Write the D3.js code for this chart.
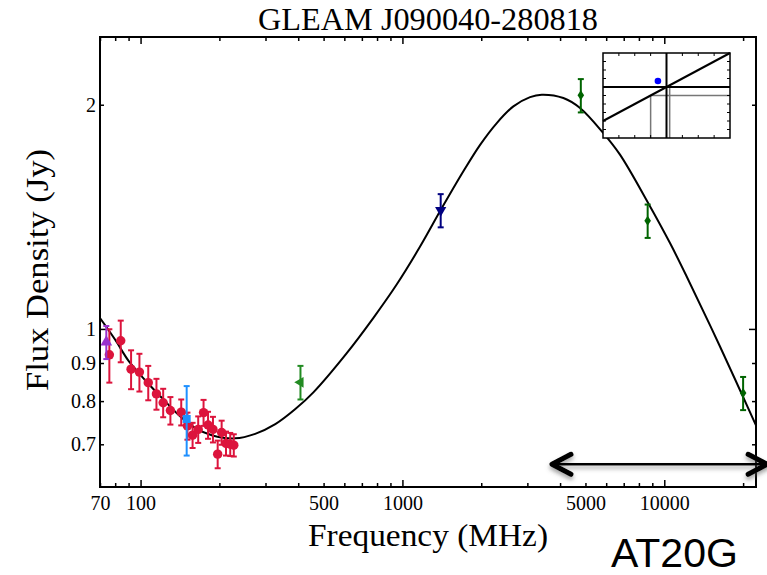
<!DOCTYPE html>
<meta charset="utf-8">
<script src="https://cdn.jsdelivr.net/npm/d3@7/dist/d3.min.js"></script>
<style>
  body { margin: 0; background: #fff; }
</style>
<div id="chart"></div>
<script>

// GLEAM sub-band fluxes (MHz, Jy)
var gleamFreq = [76, 84, 92, 99, 107, 115, 122, 130, 143, 151, 158, 166, 174, 181, 189, 197, 204, 212, 220, 227];
var gleamFlux = [0.923, 0.964, 0.883, 0.875, 0.847, 0.818, 0.796, 0.777, 0.773, 0.741, 0.720, 0.733, 0.772, 0.743, 0.733, 0.679, 0.726, 0.702, 0.700, 0.698];
var gleamErr  = [0.076, 0.062, 0.053, 0.051, 0.045, 0.039, 0.035, 0.033, 0.031, 0.031, 0.028, 0.030, 0.031, 0.031, 0.029, 0.029, 0.027, 0.026, 0.025, 0.024];

// other surveys
var vlssFreq = [74],   vlssFlux = [0.960], vlssErr = [0.049];
var tgssFreq = [150],  tgssFlux = [0.757], tgssErr = [0.081];
var mrcFreq  = [408],  mrcFlux  = [0.848], mrcErr  = [0.044];
var nvssFreq = [1400], nvssFlux = [1.443], nvssErr = [0.074];
var at20Freq = [4800, 8640, 20000], at20Flux = [2.059, 1.397, 0.820], at20Err = [0.106, 0.072, 0.042];

// fitted spectrum
var fitFreq = [70, 80, 90, 104, 121, 144, 162, 187, 230, 274, 327, 389, 457, 613, 775, 952, 1168, 1414, 1709, 1980, 2293, 2653, 3072, 3404, 4117, 4767, 5850, 6774, 8687, 10515, 12176, 16320, 22400];
var fitFlux = [1.034, 0.967, 0.906, 0.854, 0.807, 0.759, 0.736, 0.720, 0.713, 0.723, 0.745, 0.780, 0.822, 0.928, 1.035, 1.148, 1.290, 1.453, 1.628, 1.767, 1.890, 1.990, 2.048, 2.063, 2.042, 1.980, 1.832, 1.714, 1.475, 1.304, 1.176, 0.947, 0.742];

// ticks
var xMajor = [100, 1000, 10000];
var xMinor = [70, 80, 90, 200, 300, 400, 500, 600, 700, 800, 900, 2000, 3000, 4000, 5000, 6000, 7000, 8000, 9000, 20000];
var xLabels = [70, 100, 500, 1000, 5000, 10000];
var yMajor = [1];
var yMinor = [0.7, 0.8, 0.9, 2];
var yLabels = [0.7, 0.8, 0.9, 1, 2];

// arrow annotation (MHz range, Jy level)
var arrowFreq = [3725, 24700], arrowFlux = 0.658;

// inset panel
var insetDot = [3.46, 6.7];
var insetBlack = [[[4, 0], [4, 10]], [[0, 6], [8, 6]], [[0, 2], [8, 10]]];
var insetGrey = [[[3, 5], [8, 5]], [[3, 0], [3, 5]], [[4.2, 0], [4.2, 6]]];

var W = 767, H = 575;
var margin = {top: 37, right: 11, bottom: 88, left: 100},
    width = W - margin.left - margin.right,
    height = H - margin.top - margin.bottom;

var svg = d3.select("#chart").append("svg")
    .attr("width", W)
    .attr("height", H);

var defs = svg.append("defs");
defs.append("clipPath").attr("id", "plotclip")
  .append("rect").attr("width", width).attr("height", height);
var sh = defs.append("filter").attr("id", "shadow")
    .attr("x", "-10%").attr("y", "-100%").attr("width", "120%").attr("height", "300%");
sh.append("feDropShadow").attr("dx", 0).attr("dy", 3).attr("stdDeviation", 2)
    .attr("flood-color", "#555").attr("flood-opacity", 0.55);

var g = svg.append("g")
    .attr("transform", "translate(" + margin.left + "," + margin.top + ")");

var x = d3.scaleLog().domain([70, 22400]).range([0, width]);
var y = d3.scaleLog().domain([0.6134, 2.466]).range([height, 0]);

var serif = "'Liberation Serif', 'Times New Roman', serif";

// ticks, all pointing inward
function tickAxis(axisFn, scale, vals, len, tr) {
  g.append("g")
    .attr("transform", tr)
    .call(axisFn(scale).tickValues(vals).tickSize(-len).tickFormat(""))
    .call(function(a) { a.select(".domain").remove(); })
    .selectAll("line").attr("stroke", "#000").attr("stroke-width", 1.5);
}
tickAxis(d3.axisBottom, x, xMajor, 7, "translate(0," + height + ")");
tickAxis(d3.axisBottom, x, xMinor, 4, "translate(0," + height + ")");
tickAxis(d3.axisTop, x, xMajor, 7, "translate(0,0)");
tickAxis(d3.axisTop, x, xMinor, 4, "translate(0,0)");
tickAxis(d3.axisLeft, y, yMajor, 7, "translate(0,0)");
tickAxis(d3.axisLeft, y, yMinor, 4, "translate(0,0)");
tickAxis(d3.axisRight, y, yMajor, 7, "translate(" + width + ",0)");
tickAxis(d3.axisRight, y, yMinor, 4, "translate(" + width + ",0)");

// tick labels
g.append("g")
    .attr("transform", "translate(0," + height + ")")
    .call(d3.axisBottom(x).tickValues(xLabels).tickSize(0).tickPadding(9).tickFormat(d3.format("d")))
    .call(function(a) { a.select(".domain").remove(); })
    .attr("font-family", serif).attr("font-size", 20);
g.append("g")
    .call(d3.axisLeft(y).tickValues(yLabels).tickSize(0).tickPadding(4).tickFormat(function(d) { return d >= 1 ? d3.format("d")(d) : d3.format(".1f")(d); }))
    .call(function(a) { a.select(".domain").remove(); })
    .attr("font-family", serif).attr("font-size", 20);

// fitted curve
g.append("path")
    .datum(d3.zip(fitFreq, fitFlux))
    .attr("clip-path", "url(#plotclip)")
    .attr("fill", "none")
    .attr("stroke", "#000")
    .attr("stroke-width", 2)
    .attr("d", d3.line()
      .x(function(d) { return x(d[0]); })
      .y(function(d) { return y(d[1]); })
      .curve(d3.curveCatmullRom.alpha(0.5)));

// error bars + markers
function series(freq, flux, err, color, marker, size, rot) {
  var data = d3.zip(freq, flux, err);
  var s = g.append("g");
  var eb = s.selectAll(".eb").data(data).enter().append("g")
      .attr("stroke", color).attr("stroke-width", 2);
  eb.append("line")
      .attr("x1", function(d) { return x(d[0]); }).attr("x2", function(d) { return x(d[0]); })
      .attr("y1", function(d) { return y(d[1] + d[2]); }).attr("y2", function(d) { return y(d[1] - d[2]); });
  [1, -1].forEach(function(sgn) {
    eb.append("line")
      .attr("x1", function(d) { return x(d[0]) - 3; }).attr("x2", function(d) { return x(d[0]) + 3; })
      .attr("y1", function(d) { return y(d[1] + sgn * d[2]); }).attr("y2", function(d) { return y(d[1] + sgn * d[2]); });
  });
  s.selectAll(".m").data(data).enter().append("path")
      .attr("transform", function(d) { return "translate(" + x(d[0]) + "," + y(d[1]) + ") rotate(" + (rot || 0) + ")"; })
      .attr("d", marker === "diamond"
        ? "M0,-5L3.3,0L0,5L-3.3,0Z"
        : d3.symbol().type(marker).size(size)())
      .attr("fill", color);
}
series(gleamFreq, gleamFlux, gleamErr, "crimson", d3.symbolCircle, 70);
series(vlssFreq, vlssFlux, vlssErr, "darkorchid", d3.symbolTriangle, 60);
series(tgssFreq, tgssFlux, tgssErr, "dodgerblue", d3.symbolSquare, 64);
series(mrcFreq, mrcFlux, mrcErr, "forestgreen", d3.symbolTriangle, 50, -90);
series(nvssFreq, nvssFlux, nvssErr, "navy", d3.symbolTriangle, 55, 180);
series(at20Freq, at20Flux, at20Err, "darkgreen", "diamond", 0);

// frame
g.append("rect")
    .attr("width", width).attr("height", height)
    .attr("fill", "none").attr("stroke", "#000").attr("stroke-width", 2);

// inset panel
var ix = d3.scaleLinear().domain([0, 8]).range([603, 730]);
var iy = d3.scaleLinear().domain([0, 10]).range([138, 53]);
var inset = svg.append("g");
inset.append("rect")
    .attr("x", ix(0)).attr("y", iy(10))
    .attr("width", ix(8) - ix(0)).attr("height", iy(0) - iy(10))
    .attr("fill", "#fff");
inset.selectAll(".grey").data(insetGrey).enter().append("line")
    .attr("x1", function(d) { return ix(d[0][0]); }).attr("y1", function(d) { return iy(d[0][1]); })
    .attr("x2", function(d) { return ix(d[1][0]); }).attr("y2", function(d) { return iy(d[1][1]); })
    .attr("stroke", "#777").attr("stroke-width", 1.5);
inset.selectAll(".blk").data(insetBlack).enter().append("line")
    .attr("x1", function(d) { return ix(d[0][0]); }).attr("y1", function(d) { return iy(d[0][1]); })
    .attr("x2", function(d) { return ix(d[1][0]); }).attr("y2", function(d) { return iy(d[1][1]); })
    .attr("stroke", "#000").attr("stroke-width", 2);
inset.append("circle")
    .attr("cx", ix(insetDot[0])).attr("cy", iy(insetDot[1])).attr("r", 3.3)
    .attr("fill", "blue");
var itx = d3.range(1, 8), ity = d3.range(1, 10);
itx.forEach(function(v) {
  inset.append("line").attr("x1", ix(v)).attr("x2", ix(v)).attr("y1", iy(10)).attr("y2", iy(10) + 3).attr("stroke", "#000");
  inset.append("line").attr("x1", ix(v)).attr("x2", ix(v)).attr("y1", iy(0)).attr("y2", iy(0) - 3).attr("stroke", "#000");
});
ity.forEach(function(v) {
  inset.append("line").attr("x1", ix(0)).attr("x2", ix(0) + 3).attr("y1", iy(v)).attr("y2", iy(v)).attr("stroke", "#000");
  inset.append("line").attr("x1", ix(8)).attr("x2", ix(8) - 3).attr("y1", iy(v)).attr("y2", iy(v)).attr("stroke", "#000");
});
inset.append("rect")
    .attr("x", ix(0)).attr("y", iy(10))
    .attr("width", ix(8) - ix(0)).attr("height", iy(0) - iy(10))
    .attr("fill", "none").attr("stroke", "#000").attr("stroke-width", 1.5);

// double-headed arrow
var ax0 = margin.left + x(arrowFreq[0]), ax1 = margin.left + x(arrowFreq[1]), ay = margin.top + y(arrowFlux);
var arrow = svg.append("g").attr("filter", "url(#shadow)")
    .attr("stroke", "#000").attr("fill", "none").attr("stroke-linecap", "round").attr("stroke-linejoin", "round");
arrow.append("line").attr("x1", ax0 + 2).attr("x2", ax1 - 2).attr("y1", ay).attr("y2", ay).attr("stroke-width", 2.5);
arrow.append("path").attr("d", "M" + (ax0 + 19) + "," + (ay - 10) + "L" + ax0 + "," + ay + "L" + (ax0 + 19) + "," + (ay + 10)).attr("stroke-width", 5);
arrow.append("path").attr("d", "M" + (ax1 - 19) + "," + (ay - 10) + "L" + ax1 + "," + ay + "L" + (ax1 - 19) + "," + (ay + 10)).attr("stroke-width", 5);

// titles
svg.append("text")
    .attr("x", margin.left + width / 2).attr("y", 30)
    .attr("text-anchor", "middle")
    .attr("font-family", serif).attr("font-size", 31)
    .attr("textLength", 340).attr("lengthAdjust", "spacingAndGlyphs")
    .text("GLEAM J090040-280818");
svg.append("text")
    .attr("x", margin.left + width / 2).attr("y", 546)
    .attr("text-anchor", "middle")
    .attr("font-family", serif).attr("font-size", 31)
    .attr("textLength", 240).attr("lengthAdjust", "spacingAndGlyphs")
    .text("Frequency (MHz)");
svg.append("text")
    .attr("transform", "translate(48,270) rotate(-90)")
    .attr("text-anchor", "middle")
    .attr("font-family", serif).attr("font-size", 31)
    .attr("textLength", 242).attr("lengthAdjust", "spacingAndGlyphs")
    .text("Flux Density (Jy)");
svg.append("text")
    .attr("x", 611).attr("y", 567)
    .attr("font-family", "'Liberation Sans', Arial, sans-serif").attr("font-size", 41)
    .text("AT20G");

</script>
